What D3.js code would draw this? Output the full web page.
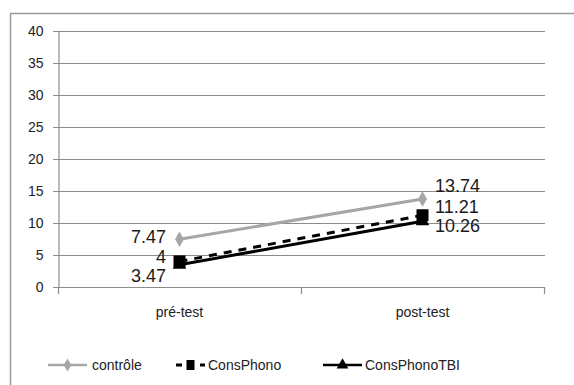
<!DOCTYPE html>
<html><head><meta charset="utf-8">
<script src="https://cdn.jsdelivr.net/npm/d3@7"></script>
<style>
html,body{margin:0;padding:0;background:#fff;}
svg{display:block;font-family:"Liberation Sans",Arial,sans-serif;}
</style></head>
<body>
<svg id="chart" width="574" height="385"></svg>
<script>
const categories = ["pré-test", "post-test"];
const seriesNames = ["contrôle", "ConsPhono", "ConsPhonoTBI"];
const controle = [7.47, 13.74];
const consPhono = [4, 11.21];
const consPhonoTBI = [3.47, 10.26];
const yTicks = [0, 5, 10, 15, 20, 25, 30, 35, 40];

const series = [
  {name: seriesNames[0], values: controle, color: "#a6a6a6", dash: null, marker: "diamond"},
  {name: seriesNames[1], values: consPhono, color: "#000", dash: "8,7", marker: "square"},
  {name: seriesNames[2], values: consPhonoTBI, color: "#000", dash: null, marker: "triangle"}
];

const svg = d3.select("#chart");
svg.append("rect").attr("x", 10.5).attr("y", 13.5).attr("width", 600).attr("height", 400)
  .attr("fill", "#fff").attr("stroke", "#9a9a9a").attr("stroke-width", 1.5);

const x = d3.scaleBand().domain(categories).range([58, 544]);
const y = d3.scaleLinear().domain([0, 40]).range([287, 31]);

svg.append("g").selectAll("line").data(yTicks).join("line")
  .attr("x1", 53).attr("x2", 545)
  .attr("y1", d => Math.round(y(d)) + 0.5).attr("y2", d => Math.round(y(d)) + 0.5)
  .attr("stroke", "#8c8c8c").attr("stroke-width", 1.2);

const yAxis = d3.axisLeft(y).tickValues(yTicks).tickSize(0).tickPadding(15);
const gy = svg.append("g").attr("transform", "translate(58.5,0)").call(yAxis);
gy.select(".domain").attr("stroke", "#8c8c8c").attr("stroke-width", 1.2);
gy.selectAll("text").attr("font-size", 14).attr("fill", "#222")
  .attr("font-family", "Liberation Sans, Arial, sans-serif");

const xAxis = d3.axisBottom(x).tickSize(0).tickPadding(20);
const gx = svg.append("g").attr("transform", `translate(0,${Math.round(y(0)) + 0.5})`).call(xAxis);
gx.select(".domain").remove();
gx.selectAll("text").attr("font-size", 14).attr("fill", "#222")
  .attr("font-family", "Liberation Sans, Arial, sans-serif");
const bounds = [x.range()[0], x(categories[1]), x.range()[1]];
svg.append("g").selectAll("line").data(bounds).join("line")
  .attr("x1", d => Math.round(d) + 0.5).attr("x2", d => Math.round(d) + 0.5)
  .attr("y1", 287).attr("y2", 294).attr("stroke", "#8c8c8c").attr("stroke-width", 1.2);

const cx = c => x(c) + x.bandwidth() / 2;

function drawMarker(g, type, color, px, py, small) {
  if (type === "diamond") {
    g.append("path").attr("d", d3.symbol(d3.symbolDiamond, small ? 50 : 70)())
      .attr("transform", `translate(${px},${py})`).attr("fill", color);
  } else if (type === "square") {
    const w = small ? 8 : 12, h = small ? 10 : 12;
    g.append("rect").attr("x", px - w / 2).attr("y", py - h / 2).attr("width", w).attr("height", h).attr("fill", color);
  } else {
    g.append("path").attr("d", d3.symbol(d3.symbolTriangle, small ? 60 : 80)())
      .attr("transform", `translate(${px},${py})`).attr("fill", color);
  }
}

const line = d3.line().x((d, i) => cx(categories[i])).y(d => y(d));
series.forEach(s => {
  const g = svg.append("g");
  g.append("path").datum(s.values).attr("d", line).attr("fill", "none")
    .attr("stroke", s.color).attr("stroke-width", 3).attr("stroke-dasharray", s.dash);
  s.values.forEach((v, i) => drawMarker(g, s.marker, s.color, cx(categories[i]), y(v), false));
});

// data labels (offsets from point, pixels)
const preOffsets = [-2, -4.5, 11];
const postOffsets = [-13, -9, 4];
const lg = svg.append("g").attr("font-size", 18).attr("fill", "#1a1a1a");
series.forEach((s, k) => {
  lg.append("text").attr("x", cx(categories[0]) - 13.5).attr("y", y(s.values[0]) + preOffsets[k])
    .attr("dy", "0.35em").attr("text-anchor", "end").text(String(s.values[0]));
  lg.append("text").attr("x", cx(categories[1]) + 12.5).attr("y", y(s.values[1]) + postOffsets[k])
    .attr("dy", "0.35em").attr("text-anchor", "start").text(String(s.values[1]));
});

// legend
const leg = svg.append("g").attr("font-size", 14).attr("fill", "#222");
const legItems = [
  {s: series[0], x1: 48, x2: 87, tx: 92},
  {s: series[1], x1: 176, x2: 205, tx: 208},
  {s: series[2], x1: 323, x2: 362, tx: 365}
];
const ly = 365;
legItems.forEach(it => {
  if (it.s.dash) {
    leg.append("line").attr("x1", it.x1).attr("x2", it.x1 + 6).attr("y1", ly).attr("y2", ly)
      .attr("stroke", it.s.color).attr("stroke-width", 3);
    leg.append("line").attr("x1", it.x2 - 5).attr("x2", it.x2).attr("y1", ly).attr("y2", ly)
      .attr("stroke", it.s.color).attr("stroke-width", 3);
  } else {
    leg.append("line").attr("x1", it.x1).attr("x2", it.x2).attr("y1", ly).attr("y2", ly)
      .attr("stroke", it.s.color).attr("stroke-width", 2.5);
  }
  drawMarker(leg, it.s.marker, it.s.color, (it.x1 + it.x2) / 2, ly, true);
  leg.append("text").attr("x", it.tx).attr("y", ly).attr("dy", "0.35em").text(it.s.name);
});
</script>
</body></html>
